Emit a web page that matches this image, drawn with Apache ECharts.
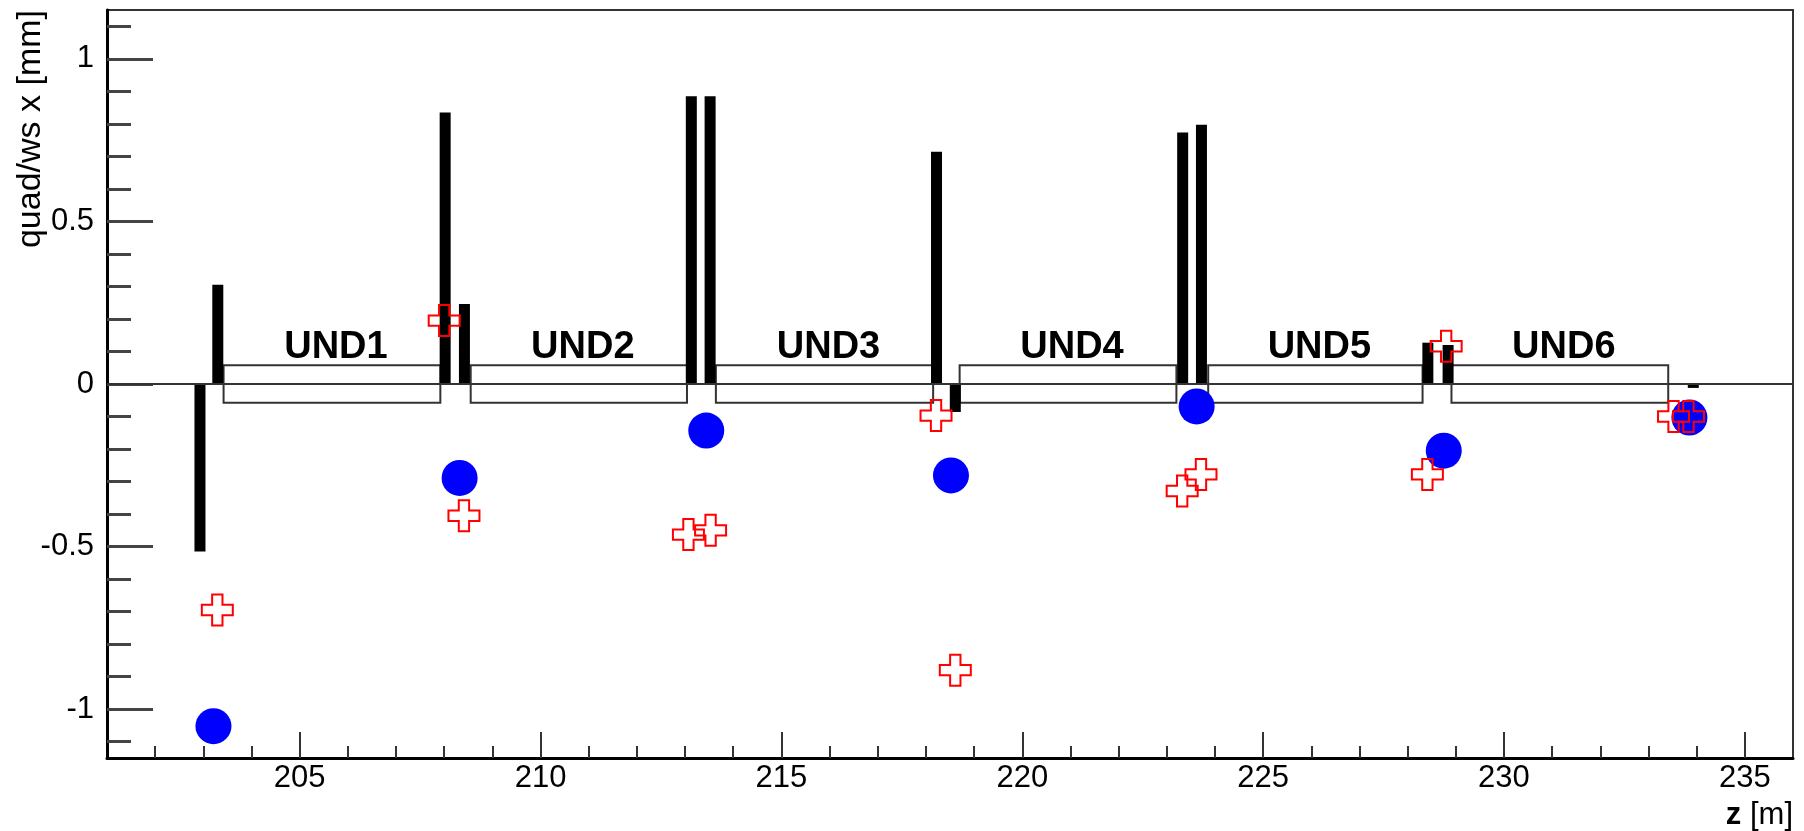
<!DOCTYPE html>
<html>
<head>
<meta charset="utf-8">
<script src="https://cdn.jsdelivr.net/npm/echarts@6/dist/echarts.min.js"></script>
<style>
html,body{margin:0;padding:0;background:#fff;}
#chart{width:1804px;height:831px;}
</style>
</head>
<body>
<div id="chart"></div>
<script>
// ---- data ----
const undNames = ['UND1', 'UND2', 'UND3', 'UND4', 'UND5', 'UND6'];
const undStart = [203.42, 208.55, 213.64, 218.70, 223.86, 228.91];
const undEnd   = [207.92, 213.04, 218.15, 223.20, 228.31, 233.41];
const undHalfHeight = 0.058;

const quadZ = [202.93, 203.30, 208.02, 208.42, 213.13, 213.52, 218.22, 218.61, 223.33, 223.72, 228.42, 228.84, 233.93];
const quadX = [-0.515, 0.305, 0.835, 0.246, 0.885, 0.885, 0.714, -0.086, 0.773, 0.797, 0.127, 0.12, -0.012];

const wsZ = [203.21, 208.32, 213.44, 218.52, 223.62, 228.75, 233.85];
const wsX = [-1.052, -0.289, -0.143, -0.281, -0.069, -0.205, -0.103];

const crossZ = [203.29, 208.00, 208.41, 213.07, 213.53, 218.21, 218.61, 223.32, 223.71, 228.41, 228.80, 233.52, 233.83];
const crossX = [-0.695, 0.195, -0.405, -0.463, -0.450, -0.097, -0.880, -0.329, -0.278, -0.278, 0.116, -0.100, -0.100];

const xMajorTicks = [205, 210, 215, 220, 225, 230, 235];
const xMinorTicks = [202, 203, 204, 206, 207, 208, 209, 211, 212, 213, 214, 216, 217, 218, 219,
                     221, 222, 223, 224, 226, 227, 228, 229, 231, 232, 233, 234];
const yMajorTicks = [-1, -0.5, 0, 0.5, 1];
const yMinorTicks = [-1.1, -0.9, -0.8, -0.7, -0.6, -0.4, -0.3, -0.2, -0.1,
                     0.1, 0.2, 0.3, 0.4, 0.6, 0.7, 0.8, 0.9, 1.1];

const xTitle = 'z [m]';
const yTitle = 'quad/ws x [mm]';

// ---- chart ----
const FONT = '"Liberation Sans", Arial, Helvetica, sans-serif';
const chart = echarts.init(document.getElementById('chart'), null, {renderer: 'canvas'});

const undData = undStart.map((s, i) => [s, undEnd[i], 0]);
const quadData = quadZ.map((z, i) => [z, quadX[i]]);
const wsData = wsZ.map((z, i) => [z, wsX[i]]);
const crossData = crossZ.map((z, i) => [z, crossX[i]]);

function xAxisCfg(major) {
  return {
    type: 'value', min: 201, max: 236, position: 'bottom',
    axisLine: {show: major, onZero: false, lineStyle: {color: '#000', width: 3}},
    axisTick: {show: true, inside: true, length: major ? 26 : 12,
      customValues: major ? xMajorTicks : xMinorTicks,
      lineStyle: {color: '#333', width: 2}},
    axisLabel: major ? {show: true, customValues: xMajorTicks, margin: 5, fontSize: 31,
      fontFamily: FONT, color: '#000'} : {show: false},
    splitLine: {show: false}
  };
}
function yAxisCfg(major) {
  return {
    type: 'value', min: -1.15, max: 1.15, position: 'left',
    axisLine: {show: major, onZero: false, lineStyle: {color: '#000', width: 3}},
    axisTick: {show: true, inside: true, length: major ? 46 : 24,
      customValues: major ? yMajorTicks : yMinorTicks,
      lineStyle: {color: '#444', width: 3}},
    axisLabel: major ? {show: true, customValues: yMajorTicks, margin: 13, fontSize: 31,
      fontFamily: FONT, color: '#000'} : {show: false},
    splitLine: {show: false}
  };
}

const option = {
  backgroundColor: '#fff',
  animation: false,
  grid: {left: 107, right: 11, top: 10, bottom: 73, show: true,
    borderColor: '#333', borderWidth: 2, backgroundColor: 'transparent'},
  xAxis: [xAxisCfg(true), xAxisCfg(false)],
  yAxis: [yAxisCfg(true), yAxisCfg(false)],
  graphic: [
    {type: 'text', x: 31, y: 10, rotation: Math.PI / 2,
      style: {text: yTitle, font: '34px ' + FONT, fill: '#000', align: 'right', verticalAlign: 'middle'}},
    {type: 'text', x: 1793, y: 815,
      style: {text: '{b|z} [m]', font: '31px ' + FONT, fill: '#000', align: 'right', verticalAlign: 'middle',
        rich: {b: {fontWeight: 'bold', fontSize: 31, fontFamily: FONT}}}}
  ],
  series: [
    {
      name: 'undulators', type: 'custom', z: 1,
      encode: {x: [0, 1], y: 2},
      data: undData,
      renderItem: function (params, api) {
        const i = params.dataIndex;
        const p1 = api.coord([api.value(0), undHalfHeight]);
        const p2 = api.coord([api.value(1), -undHalfHeight]);
        return {
          type: 'group',
          children: [
            {type: 'rect', shape: {x: p1[0], y: p1[1], width: p2[0] - p1[0], height: p2[1] - p1[1]},
              style: {fill: 'none', stroke: '#333', lineWidth: 2}},
            {type: 'text', x: (p1[0] + p2[0]) / 2 + 4, y: p1[1] + 1,
              style: {text: undNames[i], font: 'bold 38px ' + FONT, fill: '#000',
                align: 'center', verticalAlign: 'bottom'}}
          ]
        };
      },
      markLine: {
        silent: true, symbol: ['none', 'none'], label: {show: false},
        lineStyle: {color: '#333', width: 2, type: 'solid'},
        data: [{yAxis: 0}]
      }
    },
    {
      name: 'quads', type: 'custom', z: 2,
      data: quadData,
      renderItem: function (params, api) {
        const p0 = api.coord([api.value(0), 0]);
        const p1 = api.coord([api.value(0), api.value(1)]);
        return {
          type: 'rect',
          shape: {x: p0[0] - 5.5, y: Math.min(p0[1], p1[1]), width: 11, height: Math.abs(p1[1] - p0[1])},
          style: {fill: '#000'}
        };
      }
    },
    {
      name: 'ws', type: 'scatter', z: 3,
      data: wsData, symbol: 'circle', symbolSize: 36,
      itemStyle: {color: '#0000ff', opacity: 1}
    },
    {
      name: 'cross', type: 'scatter', z: 4,
      data: crossData,
      symbol: 'path://M1,0L2,0L2,1L3,1L3,2L2,2L2,3L1,3L1,2L0,2L0,1L1,1Z',
      symbolSize: 31,
      itemStyle: {color: 'rgba(255,255,255,0)', borderColor: '#ff0000', borderWidth: 2, opacity: 1}
    }
  ]
};
chart.setOption(option);
</script>
</body>
</html>
